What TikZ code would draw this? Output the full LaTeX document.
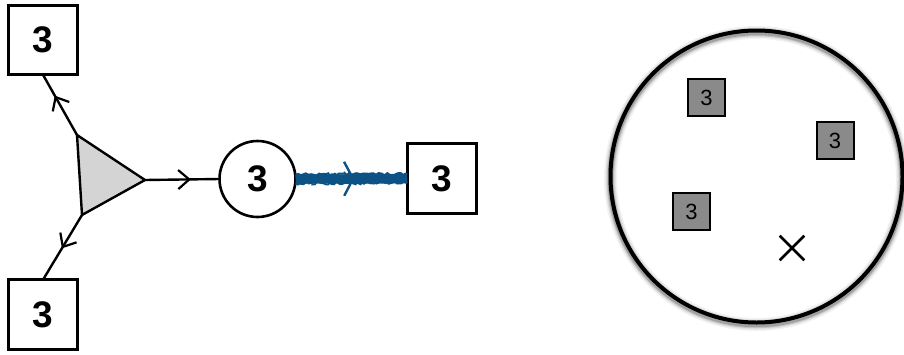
\documentclass[tikz,border=0pt]{standalone}
\usepackage{fontspec}
\setmainfont{Liberation Sans}
\usetikzlibrary{decorations.markings,decorations.pathmorphing,shapes.misc}
\definecolor{tri}{RGB}{212,212,212}
\definecolor{sq}{RGB}{138,138,138}
\definecolor{wire}{RGB}{12,82,132}
\tikzset{
  bigbox/.style={draw, line width=2.6pt, minimum size=69.5pt, inner sep=0pt, outer sep=0pt,
    font=\fontsize{37}{37}\selectfont\bfseries},
  ringnode/.style={circle, draw, line width=2.6pt, minimum size=76pt, inner sep=0pt, outer sep=0pt,
    font=\fontsize{37}{37}\selectfont\bfseries},
  smallbox/.style={draw, fill=sq, line width=2pt, minimum size=37pt, inner sep=0pt, outer sep=0pt,
    font=\fontsize{22}{22}\selectfont},
  leg/.style={line width=2.4pt},
  chev/.style={postaction={decorate}, decoration={markings,
    mark=at position #1 with {\draw[line width=2.2pt, black] (-5.5pt,9.5pt) -- (5.5pt,0pt) -- (-5.5pt,-9.5pt);}}},
  bluechev/.style={postaction={decorate}, decoration={markings,
    mark=at position #1 with {\draw[line width=2.4pt, wire] (-5pt,17pt) -- (4pt,0pt) -- (-5pt,-17pt);}}},
  wireline/.style={line width=9pt, wire},
  roughedge/.style={line width=2pt, wire, decorate, decoration={random steps, segment length=2pt, amplitude=1.2pt}},
}
\begin{document}
\begin{tikzpicture}[x=1pt, y=-1pt]
\useasboundingbox (0,0) rectangle (904,354);
% left graph
\node[bigbox] (tl) at (43,40) {3};
\node[bigbox] (bl) at (43,314.5) {3};
\node[ringnode] (c) at (257.5,179) {3};
\node[bigbox] (rb) at (442,178.5) {3};
\coordinate (t1) at (77,135);
\coordinate (t2) at (145,180);
\coordinate (t3) at (82,215);
\draw[line width=2.4pt, line join=miter, fill=tri] (t1) -- (t2) -- (t3) -- cycle;
\draw[leg, chev=0.55] (t1) -- (tl.south);
\draw[leg, chev=0.42] (t3) -- (bl.north);
\draw[leg, chev=0.52] (t2) -- (c.west);
\draw[roughedge] ([yshift=-4.5pt]c.east) -- ([yshift=-4.5pt]rb.west);
\draw[roughedge] ([yshift=4.5pt]c.east) -- ([yshift=4.5pt]rb.west);
\draw[wireline, bluechev=0.48] (c.east) -- (rb.west);
% right circle with glow
\foreach \w/\o in {13/0.05, 10/0.08, 7.5/0.12, 5.5/0.18}{
  \draw[line width=\w pt, black, opacity=\o] (756.5,178.5) circle[radius=146];
}
\node[circle, draw, line width=4pt, minimum size=292pt, inner sep=0pt] (big) at (756.5,176.5) {};
\node[smallbox] (s1) at (706.5,97.5) {3};
\node[smallbox] (s2) at (835,140.5) {3};
\node[smallbox] (s3) at (691.5,211.5) {3};
\node[cross out, draw, line width=2.6pt, minimum size=22pt, inner sep=0pt] (x) at (792,248) {};
\end{tikzpicture}
\end{document}
